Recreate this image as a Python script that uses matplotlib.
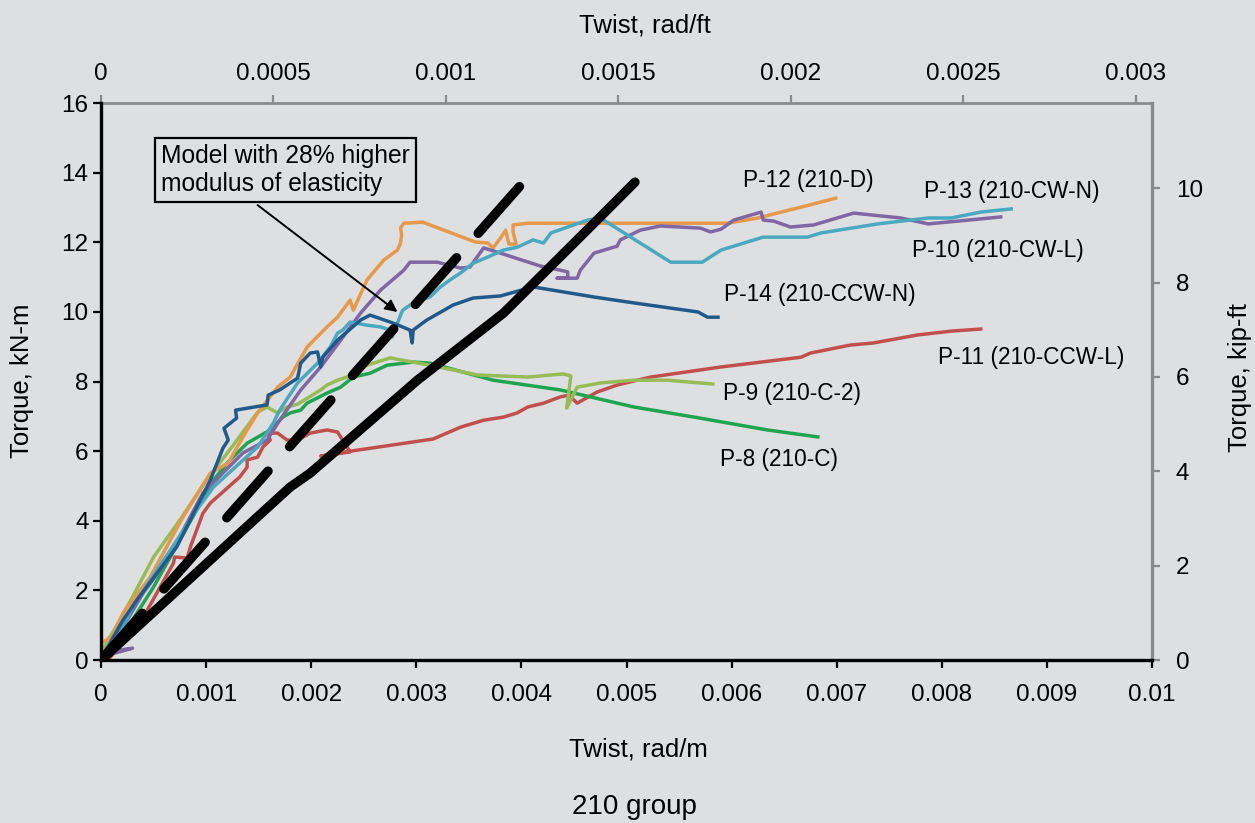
import numpy as np
import matplotlib
matplotlib.use("Agg")
import matplotlib.pyplot as plt
from matplotlib.ticker import FixedLocator, FixedFormatter

plt.rcParams['font.family'] = ['Liberation Sans', 'DejaVu Sans']

BG = '#dedfe1'
GRAY = '#8a8a8a'

# twist in 1e-3 rad/m, torque in kN-m
p12_x = [0, 0.105, 0.21, 0.467, 0.78, 1.04, 1.21, 1.35, 1.49, 1.68, 1.80, 1.96, 2.15, 2.25, 2.37, 2.40,
         2.53, 2.69, 2.82, 2.85, 2.86, 2.85, 2.88, 3.06, 3.56, 3.68, 3.73, 3.80, 3.85, 3.88, 3.95, 3.92,
         3.92, 4.06, 5.32, 5.96, 6.25, 6.47, 6.66, 6.85, 6.99]
p12_y = [0.49, 0.66, 1.35, 2.38, 4.11, 5.37, 5.66, 6.41, 7.10, 7.84, 8.13, 8.99, 9.57, 9.85, 10.34, 10.05,
         10.92, 11.49, 11.78, 11.98, 12.21, 12.41, 12.55, 12.58, 12.01, 11.98, 11.84, 12.12, 12.35, 11.95, 11.95, 12.30,
         12.50, 12.55, 12.55, 12.55, 12.70, 12.87, 13.01, 13.16, 13.27]

p13_x = [0, 0.086, 0.18, 0.30, 0.47, 0.66, 0.91, 1.07, 1.32, 1.49, 1.64, 1.70, 1.87, 2.06, 2.18, 2.25,
         2.30, 2.37, 2.53, 2.66, 2.75, 2.77, 2.85, 2.87, 2.97, 3.13, 3.23, 3.32, 3.42, 3.54, 3.68, 3.83,
         3.96, 4.11, 4.21, 4.28, 4.44, 4.63, 4.75, 5.42, 5.72, 5.90, 6.30, 6.72, 6.85, 7.39, 7.87, 8.09,
         8.37, 8.66]
p13_y = [0, 0.29, 0.78, 1.52, 2.30, 3.16, 4.31, 4.97, 5.66, 6.12, 6.81, 7.18, 7.96, 8.53, 8.99, 9.39,
         9.48, 9.71, 9.62, 9.57, 9.48, 9.28, 9.91, 10.05, 10.26, 10.43, 10.72, 10.92, 11.12, 11.40, 11.58, 11.78,
         11.86, 12.07, 11.98, 12.27, 12.44, 12.64, 12.70, 11.43, 11.43, 11.78, 12.15, 12.15, 12.27, 12.53, 12.70, 12.70,
         12.87, 12.96]

p10_x = [0, 0.30, 0.05, 0.10, 0.21, 0.40, 0.63, 0.97, 1.35, 1.58, 1.70, 1.90, 2.09, 2.28, 2.47, 2.66,
         2.85, 2.88, 2.94, 3.20, 3.42, 3.51, 3.64, 3.80, 4.18, 4.37, 4.44, 4.44, 4.34, 4.53, 4.56, 4.69,
         4.91, 4.94, 5.13, 5.32, 5.70, 5.80, 5.90, 6.02, 6.28, 6.30, 6.40, 6.56, 6.78, 7.16, 7.61, 7.87,
         8.15, 8.56]
p10_y = [0.09, 0.34, 0.23, 0.43, 0.95, 1.92, 2.87, 4.80, 5.95, 6.32, 6.89, 7.76, 8.42, 9.19, 9.97, 10.63,
         11.12, 11.20, 11.43, 11.43, 11.26, 11.29, 11.84, 11.69, 11.32, 11.20, 11.15, 10.97, 10.97, 10.97, 11.20, 11.69,
         11.89, 12.07, 12.35, 12.47, 12.41, 12.30, 12.38, 12.64, 12.87, 12.64, 12.61, 12.44, 12.50, 12.84, 12.70, 12.53,
         12.61, 12.73]

p14_x = [0.02, 0.21, 0.34, 0.72, 1.04, 1.16, 1.21, 1.17, 1.29, 1.28, 1.58, 1.59, 1.70, 1.87, 1.90, 1.99,
         2.06, 2.09, 2.11, 2.25, 2.47, 2.56, 2.78, 2.94, 2.96, 2.97, 3.10, 3.35, 3.54, 3.80, 4.11, 4.69,
         5.07, 5.68, 5.77, 5.87]
p14_y = [0.14, 1.15, 1.72, 3.25, 5.17, 6.09, 6.32, 6.66, 6.95, 7.18, 7.33, 7.61, 7.76, 8.10, 8.53, 8.82,
         8.85, 8.42, 8.70, 9.19, 9.77, 9.91, 9.68, 9.48, 9.11, 9.48, 9.77, 10.20, 10.40, 10.46, 10.72, 10.43,
         10.26, 10.00, 9.85, 9.85]

p11_x = [0, 0.07, 0.23, 0.37, 0.53, 0.69, 0.70, 0.82, 0.85, 0.97, 1.04, 1.32, 1.39, 1.39, 1.49, 1.54,
         1.61, 1.58, 1.68, 1.77, 1.87, 1.99, 2.15, 2.25, 2.37, 2.09, 2.37, 3.16, 3.42, 3.64, 3.83, 3.96,
         4.06, 4.21, 4.37, 4.45, 4.53, 4.72, 4.91, 5.10, 5.23, 5.90, 6.66, 6.75, 7.13, 7.35, 7.77, 8.09,
         8.37]
p11_y = [0, 0.02, 0.57, 1.06, 1.92, 2.79, 2.96, 2.93, 3.25, 4.22, 4.51, 5.26, 5.54, 5.75, 5.83, 6.12,
         6.32, 6.52, 6.52, 6.32, 6.32, 6.52, 6.61, 6.55, 5.98, 5.86, 6.00, 6.35, 6.69, 6.89, 6.98, 7.10,
         7.27, 7.38, 7.56, 7.61, 7.38, 7.70, 7.90, 8.04, 8.13, 8.42, 8.70, 8.82, 9.05, 9.11, 9.34, 9.45,
         9.51]

p9_x = [0, 0.06, 0.11, 0.30, 0.50, 0.75, 1.01, 1.26, 1.49, 1.58, 1.68, 1.77, 1.87, 2.09, 2.15, 2.25,
        2.34, 2.40, 2.53, 2.75, 3.13, 3.58, 4.06, 4.40, 4.47, 4.43, 4.53, 4.75, 5.07, 5.39, 5.82]
p9_y = [0.14, 0.57, 0.78, 1.81, 2.96, 4.02, 5.20, 6.18, 7.12, 7.27, 7.10, 7.27, 7.35, 7.76, 7.90, 8.04,
        8.13, 8.27, 8.47, 8.68, 8.47, 8.19, 8.13, 8.22, 8.16, 7.24, 7.84, 7.96, 8.04, 8.04, 7.93]

p8_x = [0, 0.11, 0.30, 0.50, 0.75, 1.07, 1.20, 1.39, 1.61, 1.73, 1.80, 1.90, 1.96, 2.15, 2.28, 2.40,
        2.56, 2.72, 2.97, 3.13, 3.73, 4.37, 5.07, 5.70, 6.34, 6.82]
p8_y = [0, 0.43, 1.15, 2.10, 3.45, 5.17, 5.66, 6.23, 6.61, 6.98, 7.10, 7.18, 7.38, 7.67, 7.84, 8.13,
        8.24, 8.47, 8.56, 8.53, 8.04, 7.76, 7.27, 6.95, 6.61, 6.41]

model_x = [0, 1.35, 1.80, 1.99, 3.01, 3.83, 4.69, 5.08]
model_y = [0, 3.73, 4.97, 5.37, 8.04, 9.97, 12.55, 13.73]

model_hi_x = [0, 4.01]
model_hi_y = [0, 13.7]

series = [
    # x, y, color, label, label x, label y
    (p11_x, p11_y, '#c0504d', 'P-11 (210-CCW-L)', 7.96, 8.68),
    (p8_x, p8_y, '#1fa54f', 'P-8 (210-C)', 5.89, 5.77),
    (p9_x, p9_y, '#98bb55', 'P-9 (210-C-2)', 5.92, 7.67),
    (p12_x, p12_y, '#e6994a', 'P-12 (210-D)', 6.11, 13.79),
    (p10_x, p10_y, '#8066a2', 'P-10 (210-CW-L)', 7.72, 11.78),
    (p13_x, p13_y, '#4aa8c0', 'P-13 (210-CW-N)', 7.83, 13.47),
    (p14_x, p14_y, '#215a8a', 'P-14 (210-CCW-N)', 5.93, 10.51),
]

fig = plt.figure(figsize=(12.55, 8.23), dpi=100)
fig.patch.set_facecolor(BG)
ax = fig.add_axes([0.0805, 0.198, 0.8375, 0.6767])
ax.set_facecolor(BG)

for xs, ys, col, lab, lx, ly in series:
    ax.plot(np.array(xs) * 1e-3, ys, color=col, lw=2.5, solid_joinstyle='round')
    ax.text(lx * 1e-3, ly, lab, fontsize=16.3, ha='left', va='center')

ax.plot(np.array(model_x) * 1e-3, model_y, color='black', lw=6.8, solid_capstyle='round', zorder=5)
dash, = ax.plot(np.array(model_hi_x) * 1e-3, model_hi_y, color='black', lw=6.8,
                dash_capstyle='round', zorder=5)
dash.set_dashes([6.6, 3.45])

ax.set_xlim(0, 0.01)
ax.set_ylim(0, 16)

# box + arrow
ax.text(0.571e-3, 14.08, "Model with 28% higher\nmodulus of elasticity", fontsize=17.7,
        ha='left', va='center', linespacing=1.18,
        bbox=dict(boxstyle='square,pad=0.26', fc='none', ec='black', lw=1.6))
ax.annotate('', xy=(2.82e-3, 10.0), xytext=(1.49e-3, 13.07),
            arrowprops=dict(arrowstyle='-|>', color='black', lw=1.4, mutation_scale=18,
                            shrinkA=0, shrinkB=0))

# bottom / left axes
xt = [i * 0.001 for i in range(11)]
ax.xaxis.set_major_locator(FixedLocator(xt))
ax.xaxis.set_major_formatter(FixedFormatter(['0'] + ['%g' % v for v in xt[1:]]))
ax.yaxis.set_major_locator(FixedLocator(range(0, 17, 2)))
ax.tick_params(axis='x', direction='out', length=6, width=1.6, pad=11, labelsize=17.5)
ax.tick_params(axis='y', direction='out', length=6, width=1.6, pad=3, labelsize=17.5)
for s in ['left', 'bottom']:
    ax.spines[s].set_linewidth(2.4)
    ax.spines[s].set_color('black')
ax.spines['top'].set_visible(False)
ax.spines['right'].set_visible(False)

# top axis: rad/ft
top = ax.secondary_xaxis('top', functions=(lambda v: v * 0.3048, lambda v: v / 0.3048))
top.xaxis.set_major_locator(FixedLocator([0, 0.0005, 0.001, 0.0015, 0.002, 0.0025, 0.003]))
top.xaxis.set_major_formatter(FixedFormatter(['0', '0.0005', '0.001', '0.0015', '0.002', '0.0025', '0.003']))
top.tick_params(direction='out', length=6, width=1.6, color=GRAY, pad=7, labelsize=17.5)
top.spines['top'].set_color(GRAY)
top.spines['top'].set_linewidth(2)

# right axis: kip-ft
right = ax.secondary_yaxis('right', functions=(lambda v: v * 0.7376, lambda v: v / 0.7376))
right.yaxis.set_major_locator(FixedLocator(range(0, 11, 2)))
right.tick_params(direction='out', length=6, width=1.6, color=GRAY, pad=11, labelsize=17.5)
right.spines['right'].set_color(GRAY)
right.spines['right'].set_linewidth(2.4)

fig.text(645 / 1255, 1 - 25 / 823, 'Twist, rad/ft', fontsize=18.5, ha='center', va='center')
fig.text(638 / 1255, 1 - 750 / 823, 'Twist, rad/m', fontsize=18.5, ha='center', va='center')
fig.text(22 / 1255, 1 - 381 / 823, 'Torque, kN-m', fontsize=18.5, ha='center', va='center', rotation=90)
fig.text(1240 / 1255, 1 - 378 / 823, 'Torque, kip-ft', fontsize=18.5, ha='center', va='center', rotation=90)
fig.text(634 / 1255, 1 - 807 / 823, '210 group', fontsize=20, ha='center', va='center')

fig.savefig('out.png', dpi=100, facecolor=BG)
